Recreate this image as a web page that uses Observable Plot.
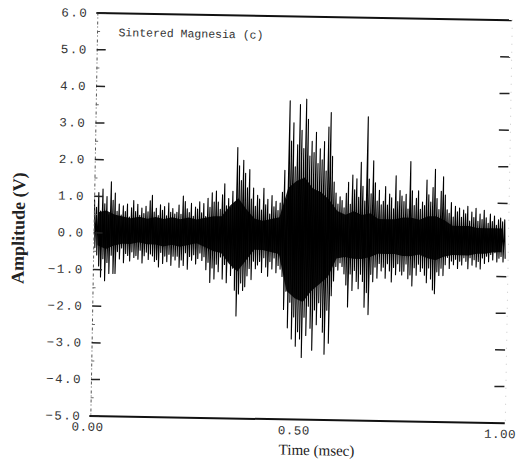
<!DOCTYPE html>
<html>
<head>
<meta charset="utf-8">
<script src="https://cdn.jsdelivr.net/npm/d3@7"></script>
<script src="https://cdn.jsdelivr.net/npm/@observablehq/plot@0.6"></script>
<style>
  html, body { margin: 0; padding: 0; background: #fff; overflow: hidden; }
  svg [aria-label="y-axis tick label"] text { letter-spacing: 1.5px; }
  svg [aria-label="x-axis tick label"] text { letter-spacing: 0.5px; }
</style>
</head>
<body>
<div id="chart"></div>
<script>
// Sampling step of the read-off spike envelope (msec)
const dt = 0.005;
// Positive peak per sample bin (V)
const hi = [
  0.9, 0.7, 1.1, 0.6, 1.2, 0.8, 1.0, 0.5, 1.4, 0.9,
  1.1, 0.6, 0.8, 0.5, 0.75, 0.6, 0.8, 0.45, 0.7, 0.9,
  0.6, 0.8, 0.5, 0.7, 0.55, 0.75, 0.6, 0.9, 1.05, 0.6,
  0.7, 0.5, 0.8, 0.65, 0.75, 0.5, 0.85, 0.6, 0.7, 0.55,
  0.6, 0.8, 0.55, 1.05, 0.9, 0.7, 0.6, 0.85, 0.5, 0.75,
  0.7, 0.9, 0.6, 0.85, 0.5, 1.0, 0.75, 1.15, 0.9, 1.2,
  0.9, 0.7, 1.1, 1.4, 0.8, 1.0, 0.75, 1.2, 0.9, 2.4,
  1.9, 1.5, 2.05, 1.7, 1.3, 1.8, 1.0, 1.3, 0.8, 1.1,
  1.0, 0.7, 1.3, 0.85, 1.0, 0.6, 1.1, 0.8, 0.95, 0.7,
  0.9, 1.2, 1.8, 1.0, 3.7, 2.6, 3.1, 1.9, 2.5, 3.6,
  2.9, 2.4, 3.75, 3.2, 2.2, 2.6, 2.3, 2.85, 2.0, 2.4,
  2.1, 2.6, 1.8, 3.0, 3.4, 2.2, 1.5, 1.2, 0.9, 1.1,
  1.0, 0.8, 1.2, 1.5, 0.9, 1.7, 1.3, 1.6, 1.1, 2.05,
  1.4, 1.0, 3.3, 1.6, 1.2, 2.1, 1.5, 1.0, 1.3, 0.9,
  1.0, 1.4, 0.9, 1.2, 1.1, 0.8, 1.7, 1.0, 1.3, 1.15,
  1.0, 1.2, 0.8, 2.1, 1.3, 0.9, 1.1, 1.3, 0.8, 1.0,
  0.9, 1.6, 1.2, 1.0, 1.4, 1.9, 1.1, 0.8, 1.3, 1.7,
  1.2, 0.8, 0.7, 1.0, 0.6, 0.9, 0.75, 0.85, 0.6, 0.8,
  0.7, 0.9, 0.5, 0.75, 0.6, 0.85, 0.5, 0.7, 0.55, 0.8,
  0.6, 0.45, 0.7, 0.5, 0.65, 0.4, 0.55, 0.6, 0.5, 0.55
];
// Negative peak per sample bin (V)
const lo = [
  -0.4, -0.6, -0.9, -1.2, -0.7, -1.3, -0.8, -1.1, -0.6, -1.1,
  -1.1, -0.5, -0.7, -0.4, -0.8, -0.55, -0.6, -0.75, -0.5, -0.65,
  -0.6, -0.7, -0.45, -0.8, -0.6, -0.5, -0.7, -0.55, -0.6, -0.75,
  -0.7, -0.9, -0.5, -0.8, -0.6, -0.75, -0.55, -0.85, -0.6, -0.7,
  -0.6, -0.9, -0.7, -0.85, -0.5, -0.95, -0.6, -0.7, -0.55, -0.8,
  -0.65, -0.5, -0.7, -0.6, -0.95, -0.75, -1.3, -0.9, -1.2, -0.8,
  -1.0, -0.6, -1.2, -0.8, -1.3, -0.7, -1.1, -0.9, -1.5, -2.2,
  -1.6, -1.3, -1.5, -1.4, -1.1, -0.9, -1.2, -0.7, -0.9, -0.8,
  -0.7, -1.0, -0.6, -0.85, -1.1, -0.7, -0.9, -0.6, -1.0, -0.8,
  -0.9, -1.1, -2.0, -1.5, -2.5, -1.8, -2.8, -2.2, -3.0, -2.6,
  -2.8, -3.3, -2.2, -2.7, -1.9, -2.5, -3.1, -2.0, -2.4, -1.8,
  -2.2, -2.6, -3.2, -2.0, -2.9, -1.6, -1.2, -0.8, -0.9, -0.7,
  -0.8, -1.0, -1.3, -1.9, -1.0, -1.45, -0.9, -1.2, -1.4, -1.0,
  -1.2, -1.9, -1.5, -2.1, -1.0, -1.2, -0.8, -1.1, -0.7, -0.9,
  -0.8, -1.1, -0.7, -0.9, -1.2, -0.8, -1.0, -0.7, -0.9, -1.0,
  -0.9, -0.7, -1.1, -1.0, -1.3, -0.8, -1.0, -0.7, -0.9, -0.8,
  -1.0, -1.2, -0.8, -1.1, -1.4, -1.5, -0.9, -1.0, -0.8, -1.0,
  -0.7, -0.5, -0.8, -0.6, -0.7, -0.55, -0.8, -0.6, -0.7, -0.5,
  -0.6, -0.8, -0.5, -0.7, -0.55, -0.75, -0.6, -0.8, -0.5, -0.65,
  -0.45, -0.6, -0.4, -0.55, -0.35, -0.6, -0.5, -0.45, -0.6, -0.5
];
// Dense dark core of the trace, per 0.02 ms bin (V)
const coreStep = 0.02;
const coreHi = [
  0.55, 0.6, 0.5, 0.45, 0.4, 0.45, 0.4, 0.45, 0.4, 0.45,
  0.4, 0.45, 0.4, 0.45, 0.5, 0.5, 0.8, 1.0, 0.7, 0.45,
  0.4, 0.45, 0.5, 1.3, 1.5, 1.6, 1.3, 1.2, 1.0, 0.7,
  0.6, 0.7, 0.6, 0.65, 0.5, 0.5, 0.5, 0.55, 0.55, 0.5,
  0.6, 0.6, 0.5, 0.35, 0.35, 0.35, 0.3, 0.3, 0.3, 0.3
];
const coreLo = [
  -0.35, -0.45, -0.35, -0.3, -0.3, -0.25, -0.3, -0.3, -0.35, -0.3,
  -0.35, -0.3, -0.25, -0.35, -0.45, -0.5, -0.8, -1.0, -0.7, -0.4,
  -0.4, -0.45, -0.5, -1.5, -1.7, -1.8, -1.5, -1.3, -1.1, -0.6,
  -0.55, -0.6, -0.6, -0.55, -0.45, -0.45, -0.45, -0.5, -0.5, -0.45,
  -0.55, -0.6, -0.5, -0.45, -0.45, -0.45, -0.4, -0.4, -0.35, -0.35
];
// Axis ticks and texts
const yTicks = [6, 5, 4, 3, 2, 1, 0, -1, -2, -3, -4, -5];
const yMinorTicks = [5.5, 4.5, 3.5, 2.5, 1.5, 0.5, -0.5, -1.5, -2.5, -3.5, -4.5];
const yRightTicks = [5, 4, 3, 2, 1, -1, -2, -3, -4];
const xTicks = [0, 0.5, 1];
const title = "Sintered Magnesia (c)";
const xLabel = "Time (msec)";
const yLabel = "Amplitude (V)";

// Waveform as alternating positive/negative excursions
const wave = [];
hi.forEach((h, i) => {
  wave.push({t: i * dt, v: h});
  wave.push({t: i * dt + dt / 2, v: lo[i]});
});
const core = coreHi.map((h, j) => ({t: (j + 0.5) * coreStep, hi: h, lo: coreLo[j]}));

const chart = Plot.plot({
  width: 526,
  height: 472,
  marginLeft: 93.5,
  marginRight: 20,
  marginTop: 15.5,
  marginBottom: 53.5,
  style: {fontFamily: "'Liberation Mono', monospace", fontSize: "12.5px", background: "#fff", color: "#333"},
  x: {domain: [0, 1]},
  y: {domain: [-5, 6]},
  marks: [
    // dense core and waveform
    Plot.areaY(core, {x: "t", y1: "lo", y2: "hi", fill: "#181818", curve: "linear"}),
    Plot.line(wave, {x: "t", y: "v", stroke: "#000", strokeWidth: 1.1}),
    // top & bottom frame lines
    Plot.ruleY([6, -5], {stroke: "#111", strokeWidth: 2, insetLeft: -1, insetRight: -2}),
    // dashed left axis line
    Plot.ruleX([0], {stroke: "#555", strokeDasharray: "3,2,1,3", strokeWidth: 1}),
    // faint dotted right edge
    Plot.ruleX([1], {stroke: "#c8c8c8", strokeDasharray: "1,7", strokeWidth: 1, dx: 2}),
    // left inward major ticks
    Plot.ruleY(yTicks, {x1: 0, x2: 0, insetRight: -9, stroke: "#222", strokeWidth: 1.5}),
    // left inward minor ticks
    Plot.ruleY(yMinorTicks, {x1: 0, x2: 0, insetRight: -3, stroke: "#666", strokeWidth: 1}),
    // right inward ticks
    Plot.ruleY(yRightTicks, {x1: 1, x2: 1, insetLeft: -9, insetRight: -1, stroke: "#222", strokeWidth: 1.5}),
    // y tick labels
    Plot.axisY(yTicks, {anchor: "left", tickSize: 0, tickPadding: 9.5, tickFormat: d3.format(".1f"), fill: "#333", label: null}),
    // x tick labels
    Plot.axisX(xTicks, {anchor: "bottom", tickSize: 0, tickPadding: 6, dx: -3, tickFormat: d3.format(".2f"), fill: "#333", label: null}),
    // title inside the plot
    Plot.text([title], {frameAnchor: "top-left", lineAnchor: "middle", dx: 21, dy: 19, textAnchor: "start", fontSize: 11.5, fill: "#333"}),
    // axis titles
    Plot.text([xLabel], {frameAnchor: "bottom", lineAnchor: "middle", textAnchor: "middle", dx: 20, dy: 30.5, fontFamily: "'Liberation Serif', serif", fontSize: 15, fill: "#222"}),
    Plot.text([yLabel], {frameAnchor: "left", lineAnchor: "middle", textAnchor: "middle", rotate: -90, dx: -75.5, dy: 15, fontFamily: "'Liberation Serif', serif", fontWeight: "bold", fontSize: 18, fill: "#222"})
  ]
});
chart.style.transform = "rotate(1deg)";
chart.style.transformOrigin = "263px 236px";
document.getElementById("chart").appendChild(chart);
</script>
</body>
</html>
